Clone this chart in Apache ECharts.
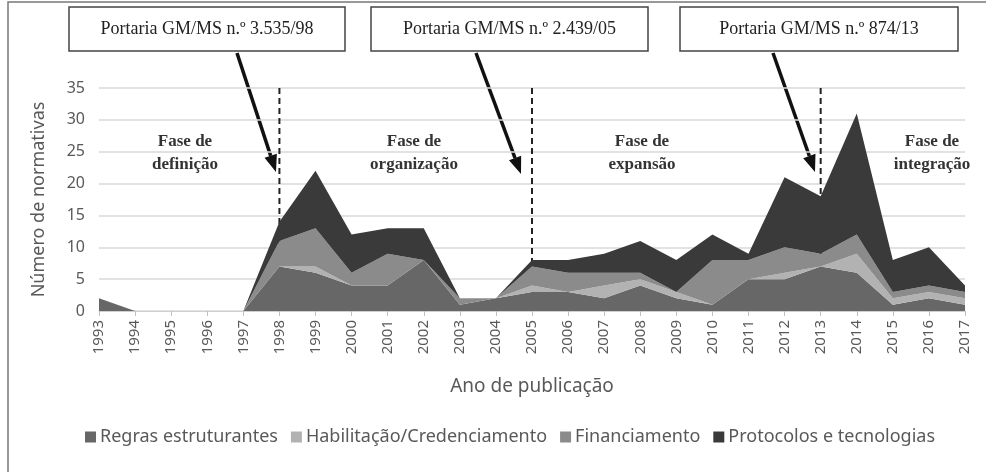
<!DOCTYPE html>
<html>
<head>
<meta charset="utf-8">
<script src="https://cdn.jsdelivr.net/npm/echarts@6/dist/echarts.min.js"></script>
<style>
  html, body { margin: 0; padding: 0; background: #fff; }
  #chart { width: 986px; height: 472px; }
</style>
</head>
<body>
<div id="chart"></div>
<script>
const years = ["1993", "1994", "1995", "1996", "1997", "1998", "1999", "2000", "2001",
  "2002", "2003", "2004", "2005", "2006", "2007", "2008", "2009", "2010", "2011",
  "2012", "2013", "2014", "2015", "2016", "2017"];

const regras =       [2, 0, 0, 0, 0, 7, 6, 4, 4, 8, 1, 2, 3, 3, 2, 4, 2, 1, 5, 5, 7, 6, 1, 2, 1];
const habilitacao =  [0, 0, 0, 0, 0, 0, 1, 0, 0, 0, 0, 0, 1, 0, 2, 1, 1, 0, 0, 1, 0, 3, 1, 1, 1];
const financiamento = [0, 0, 0, 0, 0, 4, 6, 2, 5, 0, 1, 0, 3, 3, 2, 1, 0, 7, 3, 4, 2, 3, 1, 1, 1];
const protocolos =   [0, 0, 0, 0, 0, 3, 9, 6, 4, 5, 0, 0, 1, 2, 3, 5, 5, 4, 1, 11, 9, 19, 5, 6, 1];

const portarias = ["Portaria GM/MS n.º 3.535/98", "Portaria GM/MS n.º 2.439/05", "Portaria GM/MS n.º 874/13"];
const marcos = ["1998", "2005", "2013"];
const fases = ["Fase de\ndefinição", "Fase de\norganização", "Fase de\nexpansão", "Fase de\nintegração"];

const chart = echarts.init(document.getElementById("chart"));

const uiFont = "Noto Sans";
const serif = "Liberation Serif";

const areaSeries = (name, data, color) => ({
  name,
  type: "line",
  stack: "total",
  data,
  symbol: "none",
  z: 3,
  lineStyle: { width: 0 },
  itemStyle: { color },
  areaStyle: { color, opacity: 1 },
});

// dashed vertical line at each portaria year, drawn under the areas
const marcoSeries = (ano) => ({
  type: "line",
  data: [[ano, 35], [ano, 0]],
  symbol: "none",
  silent: true,
  z: 1,
  lineStyle: { color: "#222", type: [6, 4], width: 2 },
});

// boxes + arrows + phase labels
const arrow = (x1, y1, x2, y2) => {
  const len = Math.hypot(x2 - x1, y2 - y1);
  const ux = (x2 - x1) / len, uy = (y2 - y1) / len;
  const hl = 17, hw = 6.5;
  const bx = x2 - ux * hl, by = y2 - uy * hl;
  return [
    { type: "line", shape: { x1, y1, x2: bx, y2: by }, style: { stroke: "#111", lineWidth: 3.5 } },
    { type: "polygon", shape: { points: [[x2, y2], [bx - uy * hw, by + ux * hw], [bx + uy * hw, by - ux * hw]] },
      style: { fill: "#111" } },
  ];
};

const boxes = [[69, 345], [371, 648], [680, 958]];
const graphic = [
  { type: "rect", shape: { x: 8, y: 2, width: 990, height: 475 }, style: { fill: "none", stroke: "#777", lineWidth: 1.5 } },
];
boxes.forEach(([x1, x2], i) => {
  graphic.push({ type: "rect", shape: { x: x1, y: 7, width: x2 - x1, height: 44 },
    style: { fill: "#fff", stroke: "#444", lineWidth: 1.5 } });
  graphic.push({ type: "text", x: (x1 + x2) / 2, y: 29,
    style: { text: portarias[i], font: "18px " + serif, fill: "#222", align: "center", verticalAlign: "middle" } });
});
graphic.push(...arrow(237, 53, 276, 172));
graphic.push(...arrow(476, 53, 521, 174));
graphic.push(...arrow(773, 53, 815, 172));
[[185, fases[0]], [414, fases[1]], [642, fases[2]], [932, fases[3]]].forEach(([x, t]) => {
  graphic.push({ type: "text", x, y: 153,
    style: { text: t, font: "bold 17px " + serif, fill: "#333", align: "center", verticalAlign: "middle", lineHeight: 23 } });
});

chart.setOption({
  animation: false,
  backgroundColor: "#fff",
  textStyle: { fontFamily: uiFont },
  grid: { left: 99, right: 21, top: 88, bottom: 161 },
  legend: {
    bottom: 21,
    left: 80,
    itemWidth: 11,
    itemHeight: 11,
    itemGap: 13,
    icon: "rect",
    textStyle: { fontFamily: uiFont, fontSize: 18, color: "#595959", padding: [0, 0, 0, -1] },
    data: ["Regras estruturantes", "Habilitação/Credenciamento", "Financiamento", "Protocolos e tecnologias"],
  },
  xAxis: {
    type: "category",
    data: years,
    boundaryGap: false,
    name: "Ano de publicação",
    nameLocation: "middle",
    nameGap: 66,
    nameTextStyle: { fontSize: 19, color: "#595959", fontFamily: uiFont },
    axisLine: { lineStyle: { color: "#d0d0d0", width: 1 } },
    axisTick: { show: true, length: 5, lineStyle: { color: "#bfbfbf" } },
    axisLabel: { rotate: 90, fontSize: 15, color: "#595959", margin: 9, interval: 0 },
    splitLine: { show: false },
  },
  yAxis: {
    type: "value",
    min: 0,
    max: 35,
    interval: 5,
    name: "Número de normativas",
    nameLocation: "middle",
    nameGap: 51,
    nameTextStyle: { fontSize: 18, color: "#595959", fontFamily: uiFont },
    axisLine: { show: false },
    axisTick: { show: false },
    axisLabel: { fontSize: 16, color: "#595959", margin: 14 },
    splitLine: { lineStyle: { color: "#d9d9d9", width: 1.5 } },
  },
  series: [
    areaSeries("Regras estruturantes", regras, "#676767"),
    areaSeries("Habilitação/Credenciamento", habilitacao, "#b2b2b2"),
    areaSeries("Financiamento", financiamento, "#8b8b8b"),
    areaSeries("Protocolos e tecnologias", protocolos, "#3a3a3b"),
    ...marcos.map(marcoSeries),
  ],
  graphic,
});
</script>
</body>
</html>
